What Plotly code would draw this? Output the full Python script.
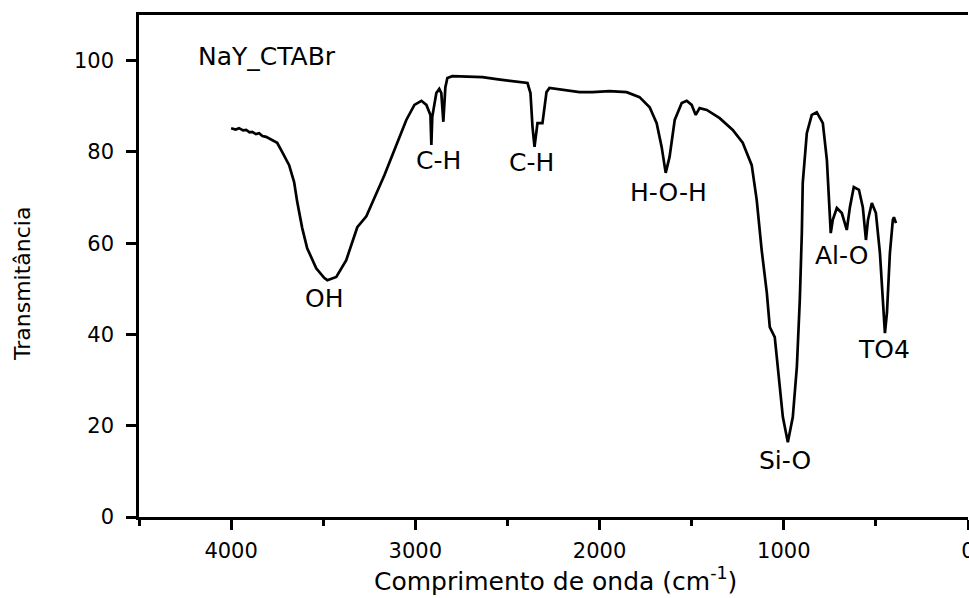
import plotly.graph_objects as go

# Wavenumber (cm^-1) and transmittance (%)
wavenumber = [4000, 3975, 3957, 3935, 3918, 3900, 3886, 3865, 3848, 3830, 3810, 3777, 3750,
              3723, 3685, 3658, 3641, 3614, 3587, 3538, 3495, 3478, 3429, 3375, 3315, 3266,
              3239, 3168, 3098, 3049, 3005, 2967, 2940, 2918, 2913, 2908, 2886, 2870, 2859,
              2848, 2837, 2826, 2799, 2700, 2636, 2550, 2451, 2391, 2375, 2364, 2353, 2345,
              2337, 2310, 2288, 2272, 2200, 2109, 2038, 1946, 1853, 1783, 1728, 1690, 1663,
              1641, 1620, 1592, 1554, 1527, 1500, 1478, 1457, 1418, 1348, 1277, 1223, 1174,
              1147, 1120, 1092, 1076, 1049, 1033, 1005, 978, 951, 929, 913, 902, 897, 875,
              848, 821, 788, 766, 755, 745, 734, 712, 685, 658, 641, 620, 592, 571, 554, 543,
              522, 500, 478, 462, 451, 440, 424, 408, 402, 391]
transmittance = [85.2, 84.9, 85.2, 84.7, 84.8, 84.3, 84.4, 83.9, 84.1, 83.5, 83.3, 82.6, 82.0,
                 80.0, 77.1, 73.4, 69.0, 63.3, 58.9, 54.5, 52.4, 51.9, 52.6, 56.3, 63.5, 65.9,
                 68.4, 74.9, 82.0, 87.0, 90.3, 91.2, 90.3, 88.1, 81.5, 87.7, 92.9, 93.8, 92.9,
                 86.6, 94.2, 96.2, 96.6, 96.5, 96.4, 95.9, 95.3, 95.1, 92.9, 85.5, 81.1, 84.5,
                 86.3, 86.3, 93.1, 94.0, 93.6, 93.1, 93.1, 93.3, 93.1, 92.0, 89.8, 86.3, 81.1,
                 75.4, 78.9, 87.0, 90.7, 91.2, 90.3, 88.1, 89.6, 89.2, 87.4, 84.8, 82.0, 77.1,
                 69.5, 58.5, 49.1, 41.6, 39.4, 32.9, 21.9, 16.4, 21.9, 32.9, 47.6, 62.2, 73.2, 84.1,
                 88.1, 88.7, 86.3, 78.2, 69.5, 62.2, 65.1, 67.7, 66.6, 62.9, 67.9, 72.3, 71.7, 67.9,
                 60.7, 65.1, 68.8, 66.6, 57.8, 48.2, 40.3, 44.7, 57.8, 65.1, 65.7, 64.4]

# Band labels and their positions (wavenumber, transmittance)
band_labels = ["OH", "C-H", "C-H", "H-O-H", "Si-O", "Al-O", "TO4"]
band_x = [3495, 2875, 2370, 1625, 995, 685, 457]
band_y = [47.8, 78.2, 77.6, 71.2, 12.3, 57.2, 36.8]

sample_name = "NaY_CTABr"
x_ticks = [4000, 3000, 2000, 1000, 0]
y_ticks = [0, 20, 40, 60, 80, 100]

FONT = "DejaVu Sans, Verdana, sans-serif"

# plot area in page pixels
L, R, T, B = 139, 968, 15, 517
PW, PH = R - L, B - T

fig = go.Figure()
fig.add_trace(go.Scatter(x=wavenumber, y=transmittance, mode="lines",
                         line=dict(color="black", width=2.7), showlegend=False,
                         hoverinfo="x+y"))

annotations = []
for lab, bx, by in zip(band_labels, band_x, band_y):
    annotations.append(dict(x=bx, y=by, xref="x", yref="y", text=lab, showarrow=False,
                            font=dict(family=FONT, size=25, color="black"),
                            xanchor="center", yanchor="middle"))
annotations.append(dict(x=4190, y=101, xref="x", yref="y", text=sample_name, showarrow=False,
                        font=dict(family=FONT, size=25, color="black"),
                        xanchor="left", yanchor="middle"))
annotations.append(dict(x=(555 - L) / PW, y=(B - 579) / PH, xref="paper", yref="paper",
                        text="Comprimento de onda (cm<sup>-1</sup>)", showarrow=False,
                        font=dict(family=FONT, size=25, color="black"),
                        xanchor="center", yanchor="middle"))
annotations.append(dict(x=(22 - L) / PW, y=(B - 284) / PH, xref="paper", yref="paper",
                        text="Transmitância", showarrow=False, textangle=-90,
                        font=dict(family=FONT, size=22, color="black"),
                        xanchor="center", yanchor="middle"))

fig.update_layout(
    width=969, height=598,
    margin=dict(l=L, r=969 - R, t=T, b=598 - B),
    paper_bgcolor="white", plot_bgcolor="white",
    annotations=annotations,
    xaxis=dict(range=[4500, 0], tickmode="array", tickvals=x_ticks,
               ticktext=[str(v) for v in x_ticks], automargin=False,
               showgrid=False, zeroline=False, showline=True, linecolor="black",
               linewidth=2.5, mirror=True, ticks="outside", ticklen=10, tickwidth=2.5,
               tickcolor="black",
               minor=dict(tickmode="array", tickvals=[4500, 3500, 2500, 1500, 500],
                          ticks="outside", ticklen=6, tickwidth=2.5, tickcolor="black",
                          showgrid=False),
               tickfont=dict(family=FONT, size=21, color="black"),
               ticklabelstandoff=3, ticklabeloverflow="allow"),
    yaxis=dict(range=[0, 110], tickmode="array", tickvals=y_ticks, automargin=False,
               showgrid=False, zeroline=False, showline=True, linecolor="black",
               linewidth=2.5, mirror=False, ticks="outside", ticklen=10, tickwidth=2.5,
               tickcolor="black",
               tickfont=dict(family=FONT, size=21, color="black"),
               ticklabelstandoff=8),
)

fig.write_html("out.html", config={"displayModeBar": False},
               post_script="document.body.style.margin='0px';"
                           "document.body.style.overflow='hidden';"
                           "document.documentElement.style.overflow='hidden';")
